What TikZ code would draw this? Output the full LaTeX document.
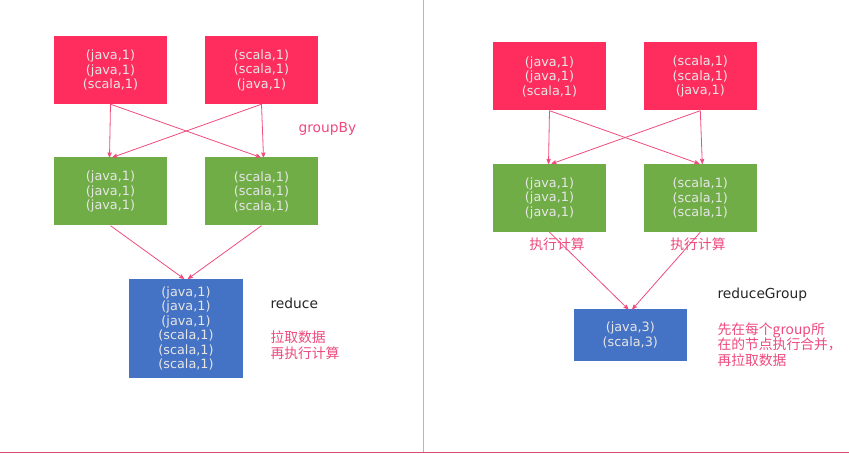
\documentclass[tikz,border=0pt]{standalone}
\usepackage{fontspec}
\setmainfont{DejaVu Sans}
\newfontfamily\cjk{Noto Sans CJK SC}
\usepackage{tikz}
\usetikzlibrary{shapes}
\usetikzlibrary{arrows}
\definecolor{mapred}{HTML}{FF2D5D}
\definecolor{grpgreen}{HTML}{70AD47}
\definecolor{redblue}{HTML}{4472C4}
\definecolor{boxtext}{HTML}{E6E6E6}
\definecolor{flowpink}{HTML}{F04C7C}
\definecolor{notepink}{HTML}{EE4A7E}
\tikzset{
  data node/.style={rectangle,minimum width=113pt,minimum height=68pt,inner sep=0pt,
    text=boxtext,align=center,font=\fontsize{12.8}{14.5}\selectfont},
  map node/.style={data node,fill=mapred},
  group node/.style={data node,fill=grpgreen},
  result node/.style={data node,fill=redblue},
  op label/.style={anchor=west,text=black!85,font=\fontsize{13.8}{16}\selectfont},
  note label/.style={anchor=west,align=left,text=notepink,font=\cjk\fontsize{13.8}{15.7}\selectfont}
}

\begin{document}
\begin{tikzpicture}[x=1pt,y=1pt,->,>=stealth',every edge/.style={draw=flowpink,line width=0.8pt}]
  \useasboundingbox (0,0) rectangle (849,453);
  \fill[white] (0,0) rectangle (849,453);
  % frame
  \draw[-,draw=pink!80!red,line width=1pt] (423,0) -- (423,453);
  \draw[-,draw=purple!60!pink,line width=1pt] (0,0.8) -- (849,0.8);

  % groupBy
  \node [map node] (r1) at (110.5,383) {(java,1)\\(java,1)\\(scala,1)};
  \node [map node] (r2) at (261.5,383) {(scala,1)\\(scala,1)\\(java,1)};
  \node [group node] (g1) at (110.5,261.5) {(java,1)\\(java,1)\\(java,1)};
  \node [group node] (g2) at (261.5,261.5) {(scala,1)\\(scala,1)\\(scala,1)};
  \node [result node,minimum width=114pt,minimum height=99pt] (b1) at (186,124.5)
    {(java,1)\\(java,1)\\(java,1)\\(scala,1)\\(scala,1)\\(scala,1)};
  \path (r1.south) edge ([xshift=-1pt]g1.north)
        (r1.south) edge ([xshift=-1pt]g2.north)
        (r2.south) edge ([xshift=2pt]g1.north)
        (r2.south) edge ([xshift=2pt]g2.north)
        (g1.south) edge ([xshift=-2pt]b1.north)
        (g2.south) edge ([xshift=2pt]b1.north);
  \node [anchor=west,text=notepink,font=\fontsize{13.8}{16}\selectfont] (gb) at (295,324) {groupBy};
  \node [op label] (rd) at (267,150) {reduce};
  \node [note label] (rdn) at (267,108) {拉取数据\\再执行计算};

  % reduceGroup
  \node [map node] (r3) at (549.5,376.5) {(java,1)\\(java,1)\\(scala,1)};
  \node [map node] (r4) at (700.3,376.5) {(scala,1)\\(scala,1)\\(java,1)};
  \node [group node] (g3) at (549.5,255) {(java,1)\\(java,1)\\(java,1)};
  \node [group node] (g4) at (700.3,255) {(scala,1)\\(scala,1)\\(scala,1)};
  \node [result node,minimum height=51pt] (b2) at (630.3,118) {(java,3)\\(scala,3)};
  \path (r3.south) edge ([xshift=-1pt]g3.north)
        (r3.south) edge ([xshift=-1pt]g4.north)
        (r4.south) edge ([xshift=2pt]g3.north)
        (r4.south) edge ([xshift=2pt]g4.north)
        (g3.south) edge ([xshift=-2pt]b2.north)
        (g4.south) edge ([xshift=2pt]b2.north);
  \node [note label,anchor=center] (c3) at (557,209) {执行计算};
  \node [note label,anchor=center] (c4) at (698,209) {执行计算};
  \node [op label] (rg) at (714,158) {reduceGroup};
  \node [note label] (rgn) at (714,108.5) {先在每个group所\\在的节点执行合并，\\再拉取数据};
\end{tikzpicture}
\end{document}
